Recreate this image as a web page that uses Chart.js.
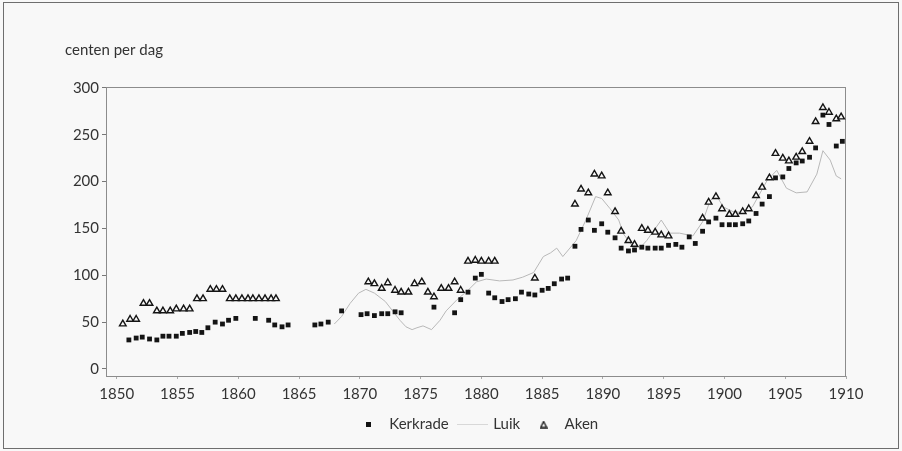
<!DOCTYPE html>
<html>
<head>
<meta charset="utf-8">
<script src="https://cdn.jsdelivr.net/npm/chart.js@4.4.1/dist/chart.umd.min.js"></script>
<style>
  body { margin: 0; background: #f8f8f8; }
  #wrap { position: relative; width: 902px; height: 451px; }
</style>
</head>
<body>
<div id="wrap"><canvas id="chart" width="902" height="451"></canvas></div>
<script>
// wages in cents per day
const kerkradeYears = [1851.0, 1851.6, 1852.1, 1852.7, 1853.3, 1853.8, 1854.3, 1854.9, 1855.4, 1856.0,
  1856.5, 1857.0, 1857.5, 1858.1, 1858.7, 1859.2, 1859.8, 1861.4, 1862.5, 1863.0, 1863.6, 1864.1,
  1866.3, 1866.8, 1867.4, 1868.5, 1870.1, 1870.6, 1871.2, 1871.8, 1872.3, 1872.9, 1873.4, 1876.1,
  1877.8, 1878.3, 1878.9, 1879.5, 1880.0, 1880.6, 1881.1, 1881.7, 1882.2, 1882.8, 1883.3, 1883.9,
  1884.4, 1885.0, 1885.5, 1886.0, 1886.6, 1887.1, 1887.7, 1888.2, 1888.8, 1889.3, 1889.9, 1890.4,
  1891.0, 1891.5, 1892.1, 1892.6, 1893.2, 1893.7, 1894.3, 1894.8, 1895.4, 1896.0, 1896.5, 1897.1,
  1897.6, 1898.2, 1898.7, 1899.3, 1899.8, 1900.4, 1900.9, 1901.5, 1902.0, 1902.6, 1903.1, 1903.7,
  1904.2, 1904.8, 1905.3, 1905.9, 1906.4, 1907.0, 1907.5, 1908.1, 1908.6, 1909.2, 1909.7];
const kerkradeValues = [31, 33, 34, 32, 31, 35, 35, 35, 38, 39,
  40, 39, 44, 50, 48, 52, 54, 54, 52, 47, 45, 47,
  47, 48, 50, 62, 58, 59, 57, 59, 59, 61, 60, 66,
  60, 74, 82, 97, 101, 81, 76, 72, 74, 75, 82, 80,
  79, 84, 86, 91, 96, 97, 131, 149, 159, 148, 155, 146,
  140, 129, 126, 127, 130, 129, 129, 129, 132, 133, 130, 141,
  134, 147, 157, 161, 154, 154, 154, 155, 158, 166, 176, 184,
  204, 205, 214, 220, 222, 226, 236, 271, 261, 238, 243];

const luikYears = [1867.9, 1868.5, 1869.2, 1869.9, 1870.5, 1871.2, 1872.1, 1872.7, 1873.3, 1873.8,
  1874.3, 1874.7, 1875.2, 1875.9, 1876.6, 1877.1, 1878.0, 1878.9, 1879.6, 1880.4, 1881.5, 1882.6,
  1883.4, 1884.3, 1885.1, 1885.7, 1886.2, 1886.7, 1887.8, 1888.6, 1889.4, 1889.9, 1890.6, 1891.3,
  1891.7, 1892.5, 1893.1, 1893.6, 1894.8, 1895.5, 1896.3, 1897.4, 1898.2, 1898.8, 1899.3, 1899.9,
  1900.7, 1901.5, 1902.3, 1903.5, 1904.3, 1905.1, 1905.9, 1906.8, 1907.6, 1908.1, 1908.7, 1909.2, 1909.6];
const luikValues = [48, 56, 70, 81, 85, 81, 72, 62, 52, 45,
  42, 44, 46, 42, 52, 62, 74, 84, 93, 96, 94, 95,
  98, 103, 120, 124, 129, 120, 137, 159, 184, 182, 171, 159,
  144, 130, 130, 137, 159, 145, 145, 142, 157, 179, 186, 173,
  168, 167, 173, 201, 212, 193, 188, 189, 208, 233, 223, 206, 203];

const akenYears = [1850.5, 1851.1, 1851.6, 1852.2, 1852.7, 1853.3, 1853.8, 1854.4, 1854.9, 1855.5,
  1856.0, 1856.6, 1857.1, 1857.7, 1858.2, 1858.7, 1859.3, 1859.8, 1860.3, 1860.8, 1861.2, 1861.7,
  1862.2, 1862.7, 1863.1, 1870.7, 1871.2, 1871.8, 1872.3, 1872.9, 1873.4, 1874.0, 1874.5, 1875.1,
  1875.6, 1876.1, 1876.7, 1877.3, 1877.8, 1878.3, 1878.9, 1879.5, 1880.0, 1880.6, 1881.1, 1884.4,
  1887.7, 1888.2, 1888.8, 1889.3, 1889.9, 1890.4, 1891.0, 1891.5, 1892.1, 1892.6, 1893.2, 1893.7,
  1894.3, 1894.8, 1895.4, 1898.2, 1898.7, 1899.3, 1899.8, 1900.4, 1900.9, 1901.5, 1902.0, 1902.6,
  1903.1, 1903.7, 1904.2, 1904.8, 1905.3, 1905.9, 1906.4, 1907.0, 1907.5, 1908.1, 1908.6, 1909.2, 1909.6];
const akenValues = [48, 53, 53, 70, 70, 62, 62, 62, 64, 64,
  64, 75, 75, 85, 85, 85, 75, 75, 75, 75, 75, 75,
  75, 75, 75, 93, 91, 86, 92, 84, 82, 82, 91, 93,
  82, 77, 86, 86, 93, 84, 115, 116, 115, 115, 115, 97,
  176, 192, 188, 208, 206, 188, 168, 147, 137, 133, 150, 148,
  146, 143, 142, 161, 178, 184, 171, 165, 165, 168, 171, 185,
  194, 204, 230, 225, 222, 226, 232, 243, 264, 279, 274, 267, 269];

const xTicks = [1850, 1855, 1860, 1865, 1870, 1875, 1880, 1885, 1890, 1895, 1900, 1905, 1910];
const yTicks = [0, 50, 100, 150, 200, 250, 300];

function points(xs, ys) {
  return xs.map((x, i) => ({x: x, y: ys[i]}));
}

// small pictures for the legend
function legendSquare() {
  let c = document.createElement('canvas');
  c.width = 5; c.height = 5;
  let g = c.getContext('2d');
  g.fillStyle = '#141414';
  g.fillRect(0, 0, 5, 5);
  return c;
}
function legendLine() {
  let c = document.createElement('canvas');
  c.width = 31; c.height = 2;
  let g = c.getContext('2d');
  g.fillStyle = '#b8b8b8';
  g.fillRect(0, 0, 31, 1);
  return c;
}
function legendTriangle() {
  let c = document.createElement('canvas');
  c.width = 8; c.height = 8;
  let g = c.getContext('2d');
  g.strokeStyle = '#141414';
  g.lineWidth = 1.3;
  g.beginPath();
  g.moveTo(4, 1); g.lineTo(7, 7); g.lineTo(1, 7); g.closePath();
  g.stroke();
  return c;
}
const legendPics = [legendSquare(), legendLine(), legendTriangle()];

const decor = {
  id: 'decor',
  beforeDatasetsDraw(chart) {
    const {ctx, chartArea: a} = chart;
    ctx.save();
    ctx.strokeStyle = '#8c8c8c';
    ctx.lineWidth = 1;
    ctx.strokeRect(Math.round(a.left) - 0.5, Math.round(a.top) + 0.5,
      Math.round(a.right - a.left), Math.round(a.bottom - a.top));
    ctx.restore();
  },
  afterDraw(chart) {
    const ctx = chart.ctx;
    ctx.save();
    ctx.strokeStyle = '#6e6e6e';
    ctx.lineWidth = 1;
    ctx.strokeRect(3.5, 2.5, 895, 446);
    ctx.fillStyle = '#333';
    ctx.font = '15px Lato';
    ctx.textBaseline = 'middle';
    ctx.fillText('centen per dag', 65, 50);
    ctx.restore();
  }
};

Chart.defaults.font.family = 'Lato';
Chart.defaults.font.size = 15;
Chart.defaults.color = '#333';

new Chart(document.getElementById('chart').getContext('2d'), {
  type: 'scatter',
  data: {
    datasets: [{
      label: 'Kerkrade',
      data: points(kerkradeYears, kerkradeValues),
      pointStyle: 'rect',
      pointRadius: 3.4,
      backgroundColor: '#141414',
      borderColor: '#141414',
      borderWidth: 0,
      order: 1
    }, {
      label: 'Luik',
      data: points(luikYears, luikValues),
      showLine: true,
      pointRadius: 0,
      borderColor: '#b8b8b8',
      borderWidth: 1,
      order: 3
    }, {
      label: 'Aken',
      data: points(akenYears, akenValues),
      pointStyle: 'triangle',
      pointRadius: 3.8,
      backgroundColor: '#f8f8f8',
      borderColor: '#141414',
      borderWidth: 1.4,
      order: 2
    }]
  },
  options: {
    responsive: false,
    animation: false,
    layout: {padding: {left: 0, right: 56, top: 87, bottom: 9}},
    plugins: {
      tooltip: {enabled: false},
      legend: {
        position: 'bottom',
        fullSize: false,
        labels: {
          usePointStyle: true,
          pointStyleWidth: 27,
          boxHeight: 10,
          padding: 10,
          sort: (a, b) => a.datasetIndex - b.datasetIndex,
          generateLabels(chart) {
            const items = Chart.defaults.plugins.legend.labels.generateLabels(chart);
            items.forEach(it => { it.pointStyle = legendPics[it.datasetIndex]; });
            return items;
          }
        }
      }
    },
    scales: {
      x: {
        type: 'linear',
        min: 1849.2,
        max: 1910,
        afterBuildTicks: s => { s.ticks = xTicks.map(v => ({value: v})); },
        afterFit: s => { s.height = 31; },
        ticks: {padding: 6, callback: v => String(v), maxRotation: 0},
        grid: {drawOnChartArea: false, tickLength: 3, color: '#aaa'},
        border: {display: false}
      },
      y: {
        min: -7.5,
        max: 301,
        afterBuildTicks: s => { s.ticks = yTicks.map(v => ({value: v})); },
        afterFit: s => { s.width = 107; },
        ticks: {padding: 3},
        grid: {drawOnChartArea: false, tickLength: 5, color: '#777'},
        border: {display: false}
      }
    }
  },
  plugins: [decor]
});
</script>
</body>
</html>
